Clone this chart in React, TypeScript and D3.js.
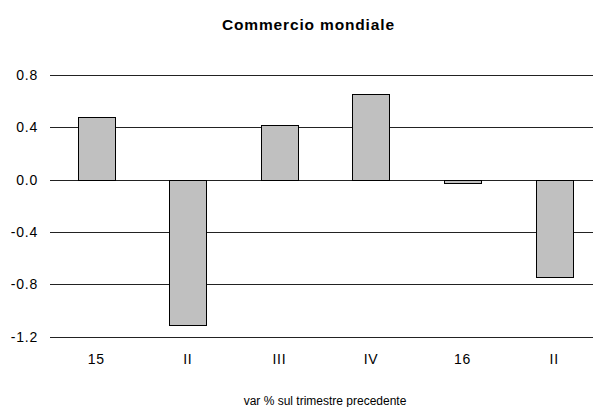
import React from "react";
import * as d3 from "d3";

const categories = ["15", "II", "III", "IV", "16", "II "];
const values = [0.48, -1.11, 0.42, 0.655, -0.02, -0.745];
const yTicks = [0.8, 0.4, 0.0, -0.4, -0.8, -1.2];
const title = "Commercio mondiale";
const footer = "var % sul trimestre precedente";

export default function App() {
  const W = 593;
  const H = 407;
  const x = d3.scaleBand<string>().domain(categories).range([50.5, 600]).paddingInner(0).paddingOuter(0);
  const y = d3.scaleLinear().domain([-1.2, 0.8]).range([336.7, 75]);
  const bw = x.bandwidth() * 0.405;
  const font = "'Liberation Sans', Arial, sans-serif";
  const fmt = (t: number) => d3.format(".1f")(t).replace("\u2212", "-");
  return (
    <svg width={W} height={H} style={{ position: "absolute", left: 0, top: 0, background: "#fff" }}>
      <text x={308} y={30} textAnchor="middle" fontFamily={font} fontWeight="bold" fontSize={15.5} fill="#000"
        textLength={172} lengthAdjust="spacing">
        {title}
      </text>
      {yTicks.map((t) => (
        <g key={t}>
          <line x1={50} x2={W} y1={Math.round(y(t)) + 0.5} y2={Math.round(y(t)) + 0.5} stroke="#222" strokeWidth={1} />
          <text x={38} y={y(t) + 5} textAnchor="end" fontFamily={font} fontSize={14} letterSpacing={0.8} fill="#000">
            {fmt(t)}
          </text>
        </g>
      ))}
      {categories.map((c, i) => {
        const v = values[i];
        const cx = (x(c) as number) + x.bandwidth() / 2;
        const y0 = y(0);
        const y1 = y(v);
        return (
          <rect
            key={c}
            x={Math.round(cx - bw / 2) + 0.5}
            y={Math.round(Math.min(y0, y1)) + 0.5}
            width={Math.round(bw)}
            height={Math.max(1, Math.round(Math.abs(y1 - y0)))}
            fill="#c0c0c0"
            stroke="#000"
            strokeWidth={1}
          />
        );
      })}
      {categories.map((c) => (
        <text
          key={"l" + c}
          x={(x(c) as number) + x.bandwidth() / 2}
          y={364}
          textAnchor="middle"
          fontFamily={font}
          fontSize={14}
          letterSpacing={0.8}
          fill="#000"
        >
          {c.trim()}
        </text>
      ))}
      <text x={325} y={405} textAnchor="middle" fontFamily={font} fontSize={12} fill="#000">
        {footer}
      </text>
    </svg>
  );
}
